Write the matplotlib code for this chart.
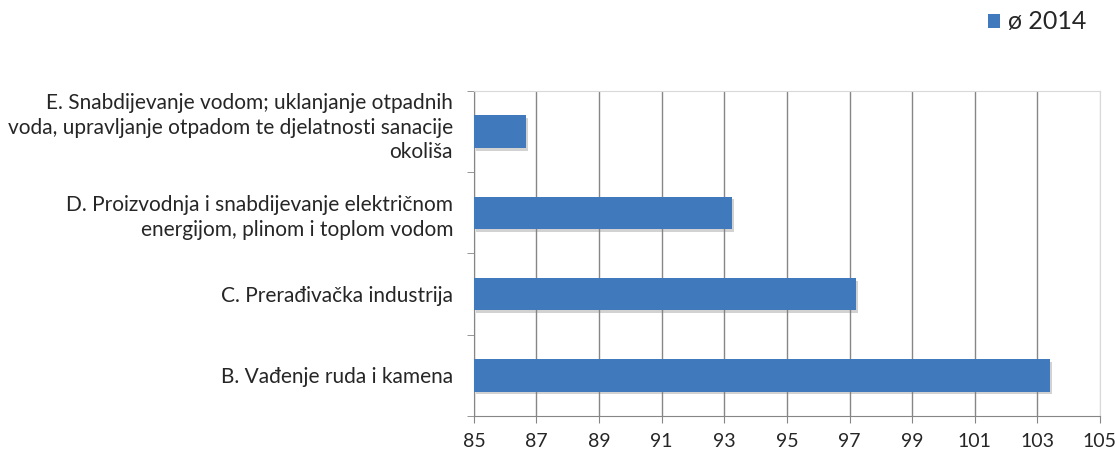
import matplotlib
matplotlib.use("Agg")
import matplotlib.pyplot as plt
import matplotlib.patheffects as pe
import matplotlib.transforms as mtransforms
from matplotlib.patches import Patch
import numpy as np

plt.rcParams['font.family'] = ['Lato', 'DejaVu Sans']

# podaci (odozdo prema gore)
categories = [
    "B. Vađenje ruda i kamena",
    "C. Prerađivačka industrija",
    "D. Proizvodnja i snabdijevanje električnom\nenergijom, plinom i toplom vodom",
    "E. Snabdijevanje vodom; uklanjanje otpadnih\nvoda, upravljanje otpadom te djelatnosti sanacije\nokoliša",
]
values_2014 = [103.4, 97.2, 93.25, 86.65]
series_label = "ø 2014"
x_ticks = [85, 87, 89, 91, 93, 95, 97, 99, 101, 103, 105]

bar_color = '#4179BD'
text_color = '#262626'

fig = plt.figure(figsize=(11.15, 4.57), dpi=100)
ax = fig.add_axes([0.425, 0.09, 0.5615, 0.711])

y = np.arange(len(categories))
bars = ax.barh(y, np.array(values_2014) - 85, left=85, height=0.4,
               color=bar_color, zorder=3)
# blaga sjena ispod stupaca
for b in bars:
    b.set_path_effects([pe.SimplePatchShadow(offset=(1.5, -2), shadow_rgbFace='#808080', alpha=0.35),
                        pe.Normal()])

ax.set_xlim(85, 105)
ax.set_ylim(-0.5, len(categories) - 0.5)
ax.set_xticks(x_ticks)
ax.set_xticklabels([str(t) for t in x_ticks], fontsize=14, color=text_color)
ax.set_yticks(y)
labels = ax.set_yticklabels(categories, fontsize=15, color=text_color, linespacing=1.3)
ax.tick_params(axis='y', length=0, pad=15)
ax.set_yticks(np.arange(-0.5, len(categories), 1), minor=True)
ax.tick_params(axis='y', which='minor', length=5, direction='out', color='#868686')
ax.tick_params(axis='x', length=5, direction='out', color='#868686', pad=7)

# oznaka E je u originalu malo podignuta
lab_e = labels[-1]
lab_e.set_transform(lab_e.get_transform() + mtransforms.ScaledTranslation(0, 6 / 72, fig.dpi_scale_trans))

ax.grid(axis='x', color='#868686', linewidth=1.0, zorder=0)
ax.xaxis.get_gridlines()[-1].set_color('#D9D9D9')

for s in ['left', 'bottom']:
    ax.spines[s].set_color('#868686')
for s in ['top', 'right']:
    ax.spines[s].set_color('#D9D9D9')

handle = Patch(facecolor=bar_color, edgecolor='none')
ax.legend([handle], [series_label], loc='center right',
          bbox_to_anchor=(1086 / 1115, 1 - 22 / 457),
          bbox_transform=fig.transFigure, borderaxespad=0, borderpad=0,
          frameon=False, fontsize=18, handlelength=0.5, handleheight=0.5,
          handletextpad=0.3, labelcolor=text_color)

fig.savefig("out.png", dpi=100)
